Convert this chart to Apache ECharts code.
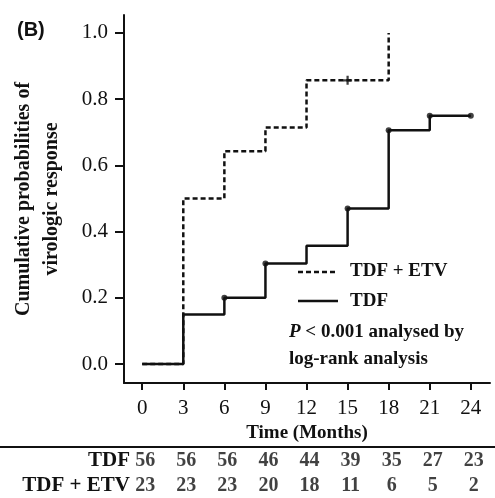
<!DOCTYPE html>
<html>
<head>
<meta charset="utf-8">
<script src="https://cdn.jsdelivr.net/npm/echarts@6/dist/echarts.min.js"></script>
<style>
  html, body { margin: 0; padding: 0; background: #fff; }
  #chart { width: 495px; height: 498px; }
</style>
</head>
<body>
<div id="chart"></div>
<script>
// tick labels
var monthTicks = [0, 3, 6, 9, 12, 15, 18, 21, 24];
var probTicks = [0, 0.2, 0.4, 0.6, 0.8, 1.0];

// step curves: [month, cumulative probability after step]
var tdfCurve = [[0, 0], [3, 0.15], [6, 0.2], [9, 0.304], [12, 0.357], [15, 0.47], [18, 0.706], [21, 0.75], [24, 0.75]];
var etvCurve = [[0, 0], [3, 0.5], [6, 0.643], [9, 0.714], [12, 0.857], [18, 1.0]];

// censored marks
var tdfCensor = [[6, 0.2], [9, 0.304], [15, 0.47], [18, 0.706], [21, 0.75], [24, 0.75]];
var etvCensor = [[15, 0.857]];

// number at risk
var rowNames = ['TDF', 'TDF + ETV'];
var tdfAtRisk = [56, 56, 56, 46, 44, 39, 35, 27, 23];
var etvAtRisk = [23, 23, 23, 20, 18, 11, 6, 5, 2];

var serif = 'Liberation Serif';
var ink = '#111';
var dash = [5, 3];

var tableData = [];
monthTicks.forEach(function (m, i) {
    tableData.push([m, rowNames[0], tdfAtRisk[i]]);
    tableData.push([m, rowNames[1], etvAtRisk[i]]);
});

var chart = echarts.init(document.getElementById('chart'));
chart.setOption({
    animation: false,
    grid: [
        { left: 124, right: 5, top: 15, bottom: 115 },
        { left: 124, right: 5, top: 448, height: 52 }
    ],
    xAxis: [{
        type: 'value', gridIndex: 0, min: -1.33, max: 25.4,
        splitLine: { show: false },
        axisLine: { onZero: false, lineStyle: { color: ink, width: 2 } },
        axisTick: { customValues: monthTicks, length: 7, lineStyle: { color: ink, width: 2 } },
        axisLabel: { customValues: monthTicks, margin: 15, color: ink, fontFamily: serif, fontSize: 21 },
        name: 'Time (Months)', nameLocation: 'middle', nameGap: 41,
        nameTextStyle: { color: ink, fontFamily: serif, fontWeight: 'bold', fontSize: 19 }
    }, {
        type: 'value', gridIndex: 1, min: -1.33, max: 25.4, show: false
    }],
    yAxis: [{
        type: 'value', gridIndex: 0, min: -0.057, max: 1.054,
        splitLine: { show: false },
        axisLine: { show: true, onZero: false, lineStyle: { color: ink, width: 2 } },
        axisTick: { show: true, customValues: probTicks, length: 9, lineStyle: { color: ink, width: 2 } },
        axisLabel: {
            customValues: probTicks, margin: 16, color: ink, fontFamily: serif, fontSize: 21,
            formatter: function (v) { return v.toFixed(1); }
        },
        name: 'Cumulative probabilities of\nvirologic response',
        nameLocation: 'middle', nameRotate: 90, nameGap: 58,
        nameTextStyle: { color: ink, fontFamily: serif, fontWeight: 'bold', fontSize: 20, lineHeight: 28 }
    }, {
        type: 'category', gridIndex: 1, data: rowNames, inverse: true,
        axisLine: { show: false }, axisTick: { show: false },
        axisLabel: { interval: 0, margin: -6, color: ink, fontFamily: serif, fontWeight: 'bold', fontSize: 21 }
    }],
    series: [{
        name: 'TDF + ETV', type: 'line', step: 'end', data: etvCurve,
        symbol: 'none', lineStyle: { color: ink, width: 2.5, type: dash }
    }, {
        name: 'TDF', type: 'line', step: 'end', data: tdfCurve,
        symbol: 'none', lineStyle: { color: ink, width: 2.5 }
    }, {
        type: 'scatter', data: tdfCensor, symbol: 'circle', symbolSize: 6,
        itemStyle: { color: ink }
    }, {
        type: 'scatter', data: etvCensor, symbol: 'path://M0,3h8v2h-8z M3,0h2v8h-2z', symbolSize: 9,
        itemStyle: { color: ink }
    }, {
        type: 'scatter', xAxisIndex: 1, yAxisIndex: 1, data: tableData, symbolSize: 0,
        label: {
            show: true, position: 'inside', offset: [3, 0], color: ink, fontFamily: serif, fontWeight: 'bold', fontSize: 20,
            formatter: function (p) { return p.value[2]; }
        }
    }],
    graphic: [{
        type: 'text', left: 17, top: 20,
        style: { text: '(B)', fill: ink, font: 'bold 20px "Liberation Sans"' }
    }, {
        // legend
        type: 'line', shape: { x1: 298, y1: 272, x2: 338, y2: 272 },
        style: { stroke: ink, lineWidth: 2.5, lineDash: dash }
    }, {
        type: 'text', left: 350, top: 262,
        style: { text: 'TDF + ETV', fill: ink, font: 'bold 19px "Liberation Serif"' }
    }, {
        type: 'line', shape: { x1: 298, y1: 301, x2: 338, y2: 301 },
        style: { stroke: ink, lineWidth: 2.5 }
    }, {
        type: 'text', left: 350, top: 292,
        style: { text: 'TDF', fill: ink, font: 'bold 19px "Liberation Serif"' }
    }, {
        type: 'text', left: 289, top: 319,
        style: {
            text: '{i|P} < 0.001 analysed by\nlog-rank analysis',
            fill: ink, font: 'bold 19px "Liberation Serif"', lineHeight: 27,
            rich: { i: { fontStyle: 'italic', fontWeight: 'bold', fontFamily: serif, fontSize: 19 } }
        }
    }, {
        type: 'line', shape: { x1: 0, y1: 447, x2: 495, y2: 447 },
        style: { stroke: ink, lineWidth: 2 }
    }]
});
</script>
</body>
</html>
